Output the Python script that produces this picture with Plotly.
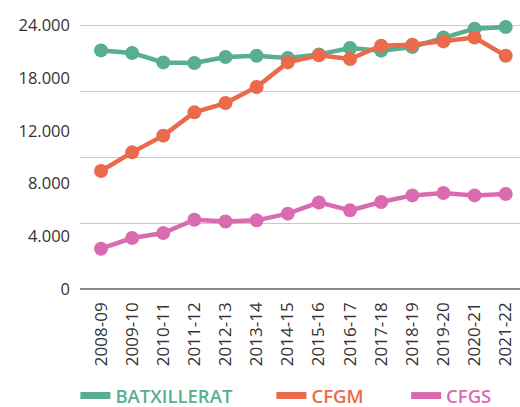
import plotly.graph_objects as go

# curs escolars
cursos = ['2008-09', '2009-10', '2010-11', '2011-12', '2012-13', '2013-14', '2014-15',
          '2015-16', '2016-17', '2017-18', '2018-19', '2019-20', '2020-21', '2021-22']

batxillerat = [21720, 21490, 20630, 20580, 21120, 21240, 21030,
               21360, 21940, 21700, 22030, 22900, 23700, 23850]
cfgm = [10740, 12440, 13960, 16080, 16930, 18390, 20630,
        21270, 20940, 22150, 22240, 22540, 22900, 21240]
cfgs = [3670, 4640, 5100, 6310, 6150, 6250, 6860,
        7880, 7160, 7920, 8520, 8740, 8520, 8650]

# etiquetes de l'eix vertical (tal com surten a l'original)
ytick_pos = [0, 4800, 9600, 14400, 19200, 24000]
ytick_text = ['0', '4.000', '8.000', '12.000', '18.000', '24.000']

series = [
    ('BATXILLERAT', batxillerat, '#58ae8e', 'legend'),
    ('CFGM', cfgm, '#ea6a4b', 'legend2'),
    ('CFGS', cfgs, '#da6bb1', 'legend3'),
]

FONT = 'Open Sans'

fig = go.Figure()
for name, values, color, leg in series:
    fig.add_trace(go.Scatter(
        x=cursos, y=values, mode='lines+markers', showlegend=False,
        line=dict(color=color, width=4.5),
        marker=dict(color=color, size=14),
        hovertemplate='%{x}: %{y:,.0f}<extra>' + name + '</extra>',
    ))

# entrades de llegenda amb línia gruixuda i text del color de la sèrie
for name, values, color, leg in series:
    fig.add_trace(go.Scatter(
        x=[None], y=[None], mode='lines', legend=leg,
        name=f'<span style="color:{color}">{name}</span>',
        line=dict(color=color, width=7),
    ))

legend_style = dict(
    orientation='h', xref='container', yref='container', xanchor='left',
    y=0.027, yanchor='middle', font=dict(size=18.5, family=FONT, weight=600),
    bgcolor='rgba(0,0,0,0)',
)

fig.update_layout(
    width=520, height=407,
    margin=dict(l=80, r=0, t=10, b=118),
    paper_bgcolor='white', plot_bgcolor='white',
    font=dict(family=FONT, color='#333333'),
    xaxis=dict(
        type='category', range=[-0.675, 13.46], automargin=False,
        tickangle=-90, tickfont=dict(size=17, color='#333333'),
        showgrid=False, showline=False, ticks='', ticklabelstandoff=9,
    ),
    yaxis=dict(
        range=[0, 25400], tickvals=ytick_pos, ticktext=ytick_text, automargin=False,
        tickfont=dict(size=16.5, color='#333333'),
        showgrid=False, zeroline=True, zerolinecolor='#8a8a8a', zerolinewidth=1.5,
        ticklabelstandoff=9, ticks='',
        minor=dict(dtick=6000, tick0=0, showgrid=True, gridcolor='#c9c9c9', gridwidth=1.3),
    ),
    legend=dict(legend_style, x=0.145),
    legend2=dict(legend_style, x=0.522),
    legend3=dict(legend_style, x=0.781),
    showlegend=True,
)

# sense el marge per defecte del body, perquè el gràfic quedi a (0, 0)
fig.write_html('out.html', config={'displayModeBar': False},
               post_script="document.body.style.margin='0';")
